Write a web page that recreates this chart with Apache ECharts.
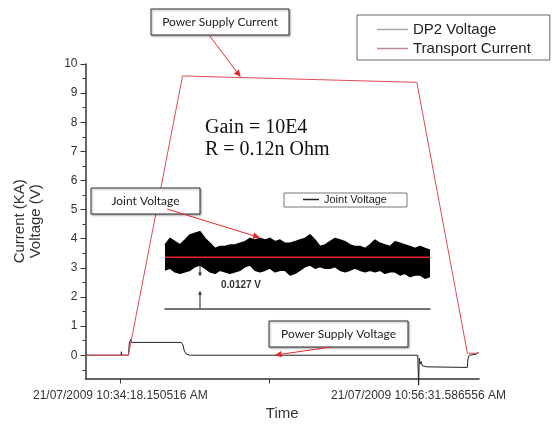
<!DOCTYPE html>
<html>
<head>
<meta charset="utf-8">
<script src="https://cdn.jsdelivr.net/npm/echarts@6/dist/echarts.min.js"></script>
<style>
    html, body { margin: 0; padding: 0; background: #fff; }
    #main { width: 552px; height: 427px; }
</style>
</head>
<body>
<div id="main"></div>
<script>
    // time axis: seconds after 21/07/2009 10:34:18.150516 AM
    var timeTicks = [0, 666.72, 1333.44];
    var timeLabels = ['21/07/2009 10:34:18.150516 AM', '', '21/07/2009 10:56:31.586556 AM'];
    var yTicks = [0, 1, 2, 3, 4, 5, 6, 7, 8, 9, 10];
    var yMinorTicks = [-0.5, 0.5, 1.5, 2.5, 3.5, 4.5, 5.5, 6.5, 7.5, 8.5, 9.5];

    // [time s, kA]
    var transportCurrent = [
        [-156, 0], [36, 0], [278, 9.59], [1326, 9.37], [1552, 0.07], [1590, 0.06], [1604, 0.1]
    ];
    // [time s, V]
    var dp2Voltage = [
        [-156, 0], [3, 0], [4.5, 0.12], [6, 0], [36, 0], [40, 0.42], [44, 0.45], [47, 0.55], [49, 0.44],
        [272, 0.44], [280, 0.35], [286, 0.15], [293, 0.05], [310, 0], [1330, 0], [1334, -1.03],
        [1337, -0.1], [1341, -0.3], [1345, -0.22], [1350, -0.36], [1358, -0.39], [1370, -0.4],
        [1552, -0.42], [1555, -0.1], [1561, 0], [1590, 0.03], [1604, 0.1]
    ];

    // inset: joint voltage envelope (mV), read at evenly spaced samples
    var jointUpper = [
        15.8, 17.4, 16.6, 15.8, 17.0, 18.3, 18.7, 19.1, 17.4, 16.2, 14.9, 15.4, 15.4, 15.8, 15.8, 16.2,
        16.6, 17.4, 17.0, 17.4, 17.0, 17.4, 16.6, 17.0, 16.2, 16.2, 16.6, 17.0, 17.4, 18.3, 17.0, 15.4,
        15.8, 16.6, 17.4, 17.0, 16.6, 15.8, 15.4, 15.4, 14.9, 15.8, 17.0, 16.2, 15.8, 15.4, 16.6, 16.2,
        15.8, 15.4, 14.9, 15.4, 14.9, 14.5
    ];
    var jointLower = [
        9.5, 10.0, 9.1, 8.7, 9.1, 9.5, 10.4, 10.8, 10.0, 9.1, 8.7, 9.5, 9.1, 8.7, 9.1, 9.5,
        10.4, 10.8, 9.5, 9.1, 9.5, 10.0, 9.1, 9.5, 9.5, 8.3, 8.7, 9.5, 10.4, 10.8, 10.0, 10.4,
        10.0, 10.0, 10.4, 9.5, 9.1, 9.5, 10.0, 9.5, 9.1, 9.5, 9.1, 9.5, 8.7, 9.1, 9.1, 8.3,
        8.7, 7.9, 8.3, 8.3, 7.5, 7.9
    ];
    var jointMean = 12.7;

    var chart = echarts.init(document.getElementById('main'));
    var font = '"Liberation Sans", Arial, sans-serif';
    var samples = jointUpper.map(function (v, i) { return i; });
    var band = jointUpper.map(function (v, i) { return +(v - jointLower[i]).toFixed(2); });

    chart.setOption({
        animation: false,
        textStyle: { fontFamily: font },
        legend: [
            {
                data: [
                    { name: 'DP2 Voltage', icon: 'rect', itemStyle: { color: '#aaa' } },
                    { name: 'Transport Current', icon: 'rect', itemStyle: { color: '#b98a92' } }
                ],
                orient: 'vertical',
                left: 357, top: 15,
                itemWidth: 31, itemHeight: 1.5, itemGap: 4,
                padding: [7, 19, 4, 20],
                borderColor: '#666', borderWidth: 1,
                selectedMode: false,
                textStyle: { fontSize: 15, color: '#222', fontFamily: font }
            },
            {
                data: [{ name: 'Joint Voltage', icon: 'rect', itemStyle: { color: '#222' } }],
                left: 284, top: 193,
                itemWidth: 16, itemHeight: 1.5,
                padding: [1, 20, 2, 19],
                borderColor: '#777', borderWidth: 1,
                selectedMode: false,
                textStyle: { fontSize: 11, color: '#222', fontFamily: font }
            }
        ],
        grid: [
            { left: 85.5, right: 73, top: 64, bottom: 48.5 },
            { left: 165, right: 122, top: 220, bottom: 118.7 }
        ],
        xAxis: [
            {
                type: 'value', gridIndex: 0, min: -156, max: 1604,
                axisLine: { onZero: false, lineStyle: { color: '#333', width: 1.5 } },
                axisTick: { customValues: timeTicks, length: 5, lineStyle: { color: '#333' } },
                axisLabel: {
                    customValues: [timeTicks[0], timeTicks[2]],
                    formatter: function (v) { return timeLabels[timeTicks.indexOf(v)] || ''; },
                    color: '#333', fontSize: 12, margin: 11
                },
                splitLine: { show: false },
                name: 'Time', nameLocation: 'middle', nameGap: 28,
                nameTextStyle: { fontSize: 15, color: '#333' }
            },
            {
                type: 'category', gridIndex: 1, data: samples, boundaryGap: false,
                axisLine: { onZero: false, lineStyle: { color: '#444', width: 1.5 } },
                axisTick: { show: false }, axisLabel: { show: false }, splitLine: { show: false }
            }
        ],
        yAxis: [
            {
                type: 'value', gridIndex: 0, min: -0.8, max: 10,
                axisLine: { show: true, onZero: false, lineStyle: { color: '#333', width: 1.5 } },
                axisTick: { customValues: yTicks, length: 5, lineStyle: { color: '#333' } },
                axisLabel: { customValues: yTicks, color: '#333', fontSize: 12, margin: 8 },
                splitLine: { show: false },
                name: 'Current (KA)\nVoltage (V)', nameLocation: 'middle', nameGap: 42, nameRotate: 90,
                nameTextStyle: { fontSize: 15, color: '#333', lineHeight: 16 }
            },
            {
                type: 'value', gridIndex: 0, min: -0.8, max: 10, position: 'left',
                axisLine: { show: false, onZero: false },
                axisTick: { customValues: yMinorTicks, length: 3, lineStyle: { color: '#333' } },
                axisLabel: { show: false }, splitLine: { show: false }
            },
            { type: 'value', gridIndex: 1, min: 0, max: 22, show: false }
        ],
        series: [
            {
                name: 'DP2 Voltage', type: 'line', data: dp2Voltage, showSymbol: false, clip: false,
                lineStyle: { color: '#222', width: 1 }, itemStyle: { color: '#222' }, z: 3
            },
            {
                name: 'Transport Current', type: 'line', data: transportCurrent, showSymbol: false,
                lineStyle: { color: '#dd4b55', width: 1 }, itemStyle: { color: '#dd4b55' }, z: 4
            },
            {
                name: 'jointLow', type: 'line', xAxisIndex: 1, yAxisIndex: 2, stack: 'jv',
                data: jointLower, showSymbol: false, silent: true,
                lineStyle: { color: '#000', width: 1.5 }
            },
            {
                name: 'Joint Voltage', type: 'line', xAxisIndex: 1, yAxisIndex: 2, stack: 'jv',
                data: band, showSymbol: false, silent: true,
                lineStyle: { color: '#000', width: 1.5 }, itemStyle: { color: '#000' },
                areaStyle: { color: '#000', opacity: 1 }
            },
            {
                name: 'jointMean', type: 'line', xAxisIndex: 1, yAxisIndex: 2,
                data: samples.map(function () { return jointMean; }), showSymbol: false, silent: true,
                lineStyle: { color: '#e8202a', width: 1.5 }, z: 5
            }
        ]
    });

    function px(t, v) { return chart.convertToPixel({ xAxisIndex: 0, yAxisIndex: 0 }, [t, v]); }
    function ipx(i, v) { return chart.convertToPixel({ xAxisIndex: 1, yAxisIndex: 2 }, [i, v]); }

    function arrow(a, b, color, head, w) {
        var dx = b[0] - a[0], dy = b[1] - a[1];
        var len = Math.sqrt(dx * dx + dy * dy), ux = dx / len, uy = dy / len;
        var bx = b[0] - ux * head, by = b[1] - uy * head, hw = head * 0.45;
        return [
            { type: 'line', shape: { x1: a[0], y1: a[1], x2: bx, y2: by }, style: { stroke: color, lineWidth: w }, z: 20 },
            { type: 'polygon', shape: { points: [[b[0], b[1]], [bx - uy * hw, by + ux * hw], [bx + uy * hw, by - ux * hw]] }, style: { fill: color }, z: 20 }
        ];
    }

    function callout(text, box, from, tip) {
        return [
            {
                type: 'rect', shape: { x: box[0], y: box[1], width: box[2], height: box[3] },
                style: { fill: '#fff', stroke: '#333', lineWidth: 1, shadowBlur: 2, shadowOffsetX: 1, shadowOffsetY: 1, shadowColor: 'rgba(0,0,0,0.35)' },
                z: 18
            },
            {
                type: 'text', x: box[0] + box[2] / 2, y: box[1] + box[3] / 2, z: 19,
                style: { text: text, align: 'center', verticalAlign: 'middle', font: '12px Lato', fill: '#222' }
            }
        ].concat(arrow(from, tip, '#e8252b', 7, 1));
    }

    var g = [];
    g = g.concat(callout('Power Supply Current', [151, 9, 138, 26], [209, 35], px(538, 9.55)));
    g = g.concat(callout('Joint Voltage', [91, 188, 109, 26], [167, 209], ipx(19, 17.6)));
    g = g.concat(callout('Power Supply Voltage', [269, 321, 139, 26], [331, 347], px(690, 0)));
    // 0.0127 V dimension arrows
    g = g.concat(arrow(ipx(6.8, jointMean), ipx(6.8, 7.9), '#222', 4, 1));
    g = g.concat(arrow(ipx(6.8, 0), ipx(6.8, 4.4), '#222', 4, 1));
    g.push({ type: 'text', x: 221, y: 285, style: { text: '0.0127 V', font: 'bold 10px "Liberation Sans"', fill: '#333', verticalAlign: 'middle' } });
    g.push({ type: 'text', x: 205, y: 128, style: { text: 'Gain = 10E4', font: '20px "Liberation Serif"', fill: '#111', verticalAlign: 'middle' } });
    g.push({ type: 'text', x: 205, y: 150, style: { text: 'R = 0.12n Ohm', font: '20px "Liberation Serif"', fill: '#111', verticalAlign: 'middle' } });

    chart.setOption({ graphic: g });
</script>
</body>
</html>
